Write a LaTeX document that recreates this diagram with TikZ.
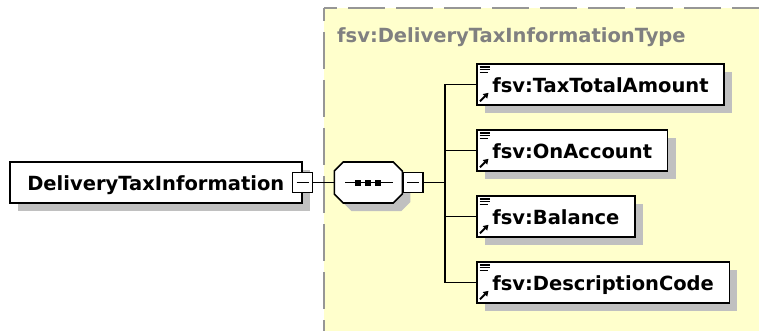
\documentclass[tikz,border=0pt]{standalone}
\usepackage{fontspec}
\setmainfont{DejaVu Sans}
\usetikzlibrary{positioning,shadows,arrows.meta}

\definecolor{typeyellow}{RGB}{255,255,204}
\definecolor{shadowgray}{RGB}{192,192,192}
\definecolor{dashgray}{RGB}{150,150,150}
\definecolor{titlegray}{RGB}{128,128,128}

% outline of the sequence compositor, cut corners of 9pt
\newcommand\seqoutline[1]{([xshift=9pt]#1.north west) -- ([xshift=-9pt]#1.north east)
  -- ([yshift=-9pt]#1.north east) -- ([yshift=9pt]#1.south east)
  -- ([xshift=-9pt]#1.south east) -- ([xshift=9pt]#1.south west)
  -- ([yshift=9pt]#1.south west) -- ([yshift=-9pt]#1.north west) -- cycle}

\tikzset{
  xsdfont/.style={font=\fontsize{19.5}{23}\selectfont\bfseries},
  boxshadow/.style={drop shadow={shadow xshift=8pt,shadow yshift=-8pt,fill=shadowgray,opacity=1}},
  elem/.style={draw,line width=1.6pt,fill=white,minimum height=41pt,inner xsep=15.5pt,
    text height=17pt,text depth=1pt,xsdfont,boxshadow},
  minusbox/.style={draw,line width=1.5pt,fill=white,minimum size=20pt,inner sep=0pt,
    path picture={\draw[line width=1.3pt] ([xshift=4pt]path picture bounding box.west)
      -- ([xshift=-4pt]path picture bounding box.east);}},
  seqarea/.style={minimum width=68pt,minimum height=41pt,inner sep=0pt,outer sep=0pt},
  conn/.style={line width=1.5pt},
  typeborder/.style={dashgray,line width=1.8pt,dash pattern=on 37pt off 11pt,dash phase=24pt}
}

\begin{document}
\begin{tikzpicture}[x=1pt,y=-1pt]
\useasboundingbox (0,0) rectangle (759,331);
% complex type area
\fill[typeyellow] (324,8) rectangle (759,331);
\draw[typeborder] (324,8) -- (759,8);
\draw[typeborder] (324,8) -- (324,331);
\node[anchor=base west,inner sep=0pt,text=titlegray,xsdfont] (ttl) at (337,43) {fsv:DeliveryTaxInformationType};

\node[elem,anchor=west,inner xsep=17.5pt] (dti) at (9,182.5) {DeliveryTaxInformation};
\node[minusbox] (m1) at (dti.east) {};
\node[seqarea,right=21pt of m1] (seq) {};
\begin{scope}[transform canvas={shift={(8pt,-8pt)}}]
\fill[shadowgray] \seqoutline{seq};
\end{scope}
\filldraw[fill=white,line width=1.6pt] \seqoutline{seq};
\draw[line width=1.4pt] ([xshift=-23pt]seq.center) -- ([xshift=25pt]seq.center);
\foreach \dx in {-10,0,10}
  \fill ([xshift=\dx pt]seq.center) ++(-3,-3) rectangle ++(6,6);
\node[minusbox,right=0pt of seq] (m2) {};
\coordinate[right=21pt of m2] (bus);
\draw[conn] (m1) -- (seq);
\draw[conn] (m2) -- (bus);

\foreach \lbl [count=\k] in {TaxTotalAmount,OnAccount,Balance,DescriptionCode}{
  \node[elem,anchor=west] (c\k) at (476,{18.5+66*\k}) {fsv:\lbl};
  \draw[conn] (bus |- c\k.west) -- (c\k.west);
  \draw[line width=1.2pt] (c\k.north west) ++(3.5,3.8) -- ++(10,0) ++(-10,2.8) -- ++(10,0) ++(-10,2.8) -- ++(8,0);
  \draw[line width=2pt,-{Triangle[length=5pt,width=6pt]}] (c\k.south west) ++(4,-4.5) -- ++(8.5,-8.5);
}
\draw[conn] (bus |- c1.west) -- (bus |- c4.west);
\end{tikzpicture}
\end{document}
